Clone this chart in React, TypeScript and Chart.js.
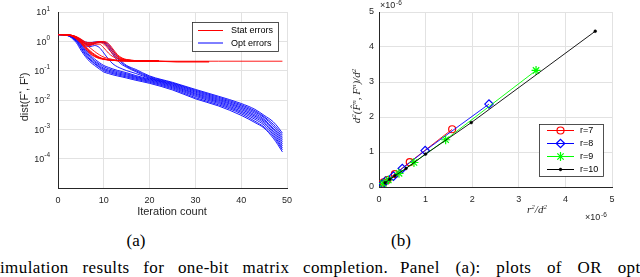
import React, { useEffect, useRef } from 'react';
import { Chart, registerables } from 'chart.js';
import { drawPoint } from 'chart.js/helpers';

Chart.register(...registerables);
Chart.defaults.font.family = "'Liberation Sans', 'DejaVu Sans', Arial, sans-serif";

// ---------- Panel (a) data ----------
const ITER_OPT = [0, 2, 4, 5, 6, 7, 8, 9, 10, 11, 12, 13, 14, 15, 17, 20, 25, 30, 35, 40, 43, 45, 47, 48, 49];
const OPT_ERRORS = [
  [1.7, 1.58, 0.9, 0.5, 0.3, 0.2, 0.15, 0.115, 0.09, 0.08, 0.072, 0.066, 0.061, 0.056, 0.047, 0.037, 0.022, 0.011, 0.0063, 0.003, 0.0017, 0.0011, 0.0005, 0.0003, 0.00017],
  [1.7, 1.6, 1.0, 0.58, 0.34, 0.23, 0.17, 0.13, 0.1, 0.088, 0.079, 0.072, 0.066, 0.061, 0.051, 0.04, 0.024, 0.012, 0.0069, 0.0034, 0.0019, 0.0012, 0.00058, 0.00035, 0.0002],
  [1.7, 1.61, 1.05, 0.63, 0.38, 0.25, 0.18, 0.14, 0.11, 0.096, 0.086, 0.078, 0.072, 0.066, 0.055, 0.043, 0.026, 0.0133, 0.0076, 0.0038, 0.0022, 0.0014, 0.00066, 0.0004, 0.00023],
  [1.7, 1.62, 1.1, 0.7, 0.43, 0.28, 0.2, 0.155, 0.12, 0.105, 0.094, 0.085, 0.078, 0.072, 0.059, 0.046, 0.028, 0.0145, 0.0083, 0.0042, 0.0025, 0.0016, 0.00076, 0.00047, 0.00027],
  [1.7, 1.63, 1.15, 0.76, 0.48, 0.31, 0.22, 0.17, 0.135, 0.117, 0.103, 0.093, 0.085, 0.078, 0.063, 0.049, 0.03, 0.0158, 0.009, 0.0047, 0.0028, 0.0018, 0.00086, 0.00055, 0.00032],
  [1.7, 1.64, 1.2, 0.82, 0.54, 0.35, 0.25, 0.19, 0.15, 0.13, 0.114, 0.102, 0.093, 0.085, 0.068, 0.052, 0.032, 0.017, 0.0098, 0.0052, 0.0031, 0.002, 0.001, 0.00064, 0.00038],
  [1.7, 1.64, 1.25, 0.9, 0.7, 0.66, 0.72, 0.62, 0.4, 0.25, 0.17, 0.135, 0.115, 0.1, 0.08, 0.055, 0.034, 0.0185, 0.0106, 0.0057, 0.0035, 0.0022, 0.0011, 0.00074, 0.00045],
  [1.7, 1.65, 1.3, 1.0, 0.8, 0.75, 0.84, 0.93, 0.88, 0.6, 0.35, 0.22, 0.16, 0.13, 0.092, 0.058, 0.036, 0.02, 0.0115, 0.0063, 0.0039, 0.0025, 0.0013, 0.00085, 0.00053],
  [1.7, 1.66, 1.4, 1.15, 0.95, 0.9, 0.95, 0.97, 0.92, 0.7, 0.42, 0.26, 0.18, 0.14, 0.1, 0.062, 0.038, 0.0215, 0.0125, 0.0069, 0.0043, 0.0027, 0.0015, 0.001, 0.00063],
  [1.7, 1.65, 1.35, 1.05, 0.85, 0.8, 0.88, 0.95, 0.96, 0.78, 0.5, 0.3, 0.2, 0.15, 0.11, 0.066, 0.04, 0.023, 0.0135, 0.0076, 0.0048, 0.003, 0.0018, 0.0012, 0.00074],
];
const ITER_STAT = [0, 2, 3, 4, 5, 6, 7, 8, 9, 10, 11, 12, 13, 14, 15, 17, 22];
const STAT_ERRORS = [
  [1.7, 1.65, 1.5, 1.2, 0.85, 0.55, 0.38, 0.3, 0.26, 0.24, 0.23, 0.225, 0.22, 0.22, 0.215, 0.215, 0.215],
  [1.7, 1.66, 1.55, 1.3, 0.95, 0.65, 0.45, 0.34, 0.28, 0.25, 0.235, 0.225, 0.22, 0.22, 0.215, 0.212, 0.21],
  [1.7, 1.66, 1.58, 1.35, 1.05, 0.8, 0.6, 0.45, 0.35, 0.29, 0.26, 0.24, 0.23, 0.225, 0.22, 0.215, 0.212],
  [1.7, 1.67, 1.6, 1.4, 1.1, 0.85, 0.8, 0.88, 0.95, 0.9, 0.65, 0.42, 0.3, 0.25, 0.23, 0.218, 0.213],
  [1.7, 1.67, 1.6, 1.42, 1.15, 0.9, 0.85, 0.9, 0.97, 0.98, 0.85, 0.55, 0.35, 0.27, 0.24, 0.22, 0.214],
  [1.7, 1.66, 1.58, 1.35, 1.0, 0.75, 0.72, 0.8, 0.8, 0.6, 0.4, 0.3, 0.26, 0.24, 0.23, 0.22, 0.215],
  [1.7, 1.65, 1.52, 1.25, 0.9, 0.6, 0.4, 0.31, 0.27, 0.245, 0.232, 0.225, 0.22, 0.218, 0.215, 0.213, 0.212],
  [1.7, 1.67, 1.6, 1.45, 1.2, 0.95, 0.9, 0.93, 0.98, 0.95, 0.75, 0.48, 0.32, 0.26, 0.235, 0.22, 0.215],
];
const ITER_STAT_LONG = [0, 2, 3, 4, 5, 6, 7, 8, 9, 10, 11, 12, 13, 14, 15, 17, 22, 35, 49];
const STAT_ERROR_LONG = [1.7, 1.66, 1.56, 1.32, 0.98, 0.68, 0.48, 0.36, 0.29, 0.255, 0.235, 0.225, 0.218, 0.215, 0.213, 0.21, 0.21, 0.21, 0.21];
const ITER_STAT_MID = [0, 2, 3, 4, 5, 6, 7, 8, 9, 10, 11, 12, 13, 14, 15, 17, 22, 26, 33];
const STAT_ERRORS_MID = [
  [1.7, 1.66, 1.54, 1.28, 0.92, 0.62, 0.43, 0.33, 0.275, 0.25, 0.233, 0.224, 0.218, 0.215, 0.213, 0.211, 0.21, 0.203, 0.203],
  [1.7, 1.67, 1.59, 1.38, 1.08, 0.82, 0.78, 0.85, 0.9, 0.8, 0.55, 0.36, 0.27, 0.235, 0.222, 0.214, 0.21, 0.198, 0.198],
];
const LOG_TICKS = [1e-5, 1e-4, 1e-3, 1e-2, 1e-1, 1, 10];

// ---------- Panel (b) data ----------
const RANK_LABELS = ['r=7', 'r=8', 'r=9', 'r=10'];
const RATIO_X = [
  [0.04, 0.1, 0.18, 0.34, 0.66, 1.57],
  [0.08, 0.14, 0.31, 0.5, 0.99, 2.36],
  [0.09, 0.2, 0.43, 0.75, 1.43, 3.37],
  [0.13, 0.23, 0.34, 0.58, 1.0, 1.98, 4.64],
];
const DIST_Y = [
  [0.08, 0.13, 0.2, 0.37, 0.71, 1.65],
  [0.09, 0.17, 0.31, 0.53, 1.04, 2.37],
  [0.1, 0.2, 0.39, 0.7, 1.35, 3.33],
  [0.12, 0.22, 0.32, 0.53, 0.94, 1.84, 4.45],
];
const AXIS_TICKS_B = [0, 1, 2, 3, 4, 5];

const RED = '#ff0000';
const BLUE = '#0000ff';
const GREEN = '#00ff00';
const BLACK = '#000000';
const AXIS = '#262626';
const GRID = '#e2e2e2';

const RANK_STYLES = [
  { color: RED, pointStyle: 'circle', radius: 3.5, fill: 'rgba(0,0,0,0)', bw: 1.2 },
  { color: BLUE, pointStyle: 'rectRot', radius: 4.2, fill: 'rgba(0,0,0,0)', bw: 1.2 },
  { color: GREEN, pointStyle: 'star', radius: 4.5, fill: 'rgba(0,0,0,0)', bw: 1.2 },
  { color: BLACK, pointStyle: 'circle', radius: 1.4, fill: BLACK, bw: 0.5 },
];

function lineSet(xs: number[], ys: number[], color: string) {
  return {
    data: xs.map((x, i) => ({ x, y: ys[i] })),
    borderColor: color,
    borderWidth: 0.9,
    pointRadius: 0,
    fill: false,
    cubicInterpolationMode: 'monotone',
  };
}

function drawSup(ctx: CanvasRenderingContext2D, base: string, sup: string, rightX: number, y: number) {
  ctx.save();
  ctx.fillStyle = AXIS;
  ctx.textBaseline = 'middle';
  ctx.textAlign = 'left';
  ctx.font = "6.5px 'Liberation Sans', Arial, sans-serif";
  const sw = ctx.measureText(sup).width;
  ctx.font = "9px 'Liberation Sans', Arial, sans-serif";
  const bw = ctx.measureText(base).width;
  ctx.fillText(base, rightX - sw - bw, y + 1);
  ctx.font = "6.5px 'Liberation Sans', Arial, sans-serif";
  ctx.fillText(sup, rightX - sw, y - 3);
  ctx.restore();
}

function drawLegendBox(ctx: CanvasRenderingContext2D, box: any, items: any[]) {
  ctx.save();
  ctx.fillStyle = '#ffffff';
  ctx.fillRect(box.x, box.y, box.w, box.h);
  ctx.strokeStyle = AXIS;
  ctx.lineWidth = 0.8;
  ctx.strokeRect(box.x + 0.5, box.y + 0.5, box.w, box.h);
  items.forEach((it, i) => {
    const y = box.rowY[i];
    ctx.strokeStyle = it.color;
    ctx.lineWidth = 1;
    ctx.beginPath();
    ctx.moveTo(box.lineX0, y);
    ctx.lineTo(box.lineX1, y);
    ctx.stroke();
    if (it.pointStyle) {
      ctx.strokeStyle = it.color;
      ctx.fillStyle = it.fill;
      ctx.lineWidth = it.bw;
      drawPoint(ctx, { pointStyle: it.pointStyle, radius: it.radius, rotation: 0, borderWidth: it.bw }, (box.lineX0 + box.lineX1) / 2, y);
    }
    ctx.fillStyle = '#000';
    ctx.font = "9px 'Liberation Sans', Arial, sans-serif";
    ctx.textAlign = 'left';
    ctx.textBaseline = 'middle';
    ctx.fillText(it.label, box.textX, y + 0.5);
  });
  ctx.restore();
}

const pluginA = {
  id: 'decorA',
  afterDraw(chart: any) {
    const ctx = chart.ctx;
    const ys = chart.scales.y;
    LOG_TICKS.forEach((v) => {
      if (v === 1e-5) return;
      const py = ys.getPixelForValue(v);
      drawSup(ctx, '10', String(Math.round(Math.log10(v))), 50, py);
    });
    drawLegendBox(ctx, { x: 192, y: 22, w: 86, h: 29, rowY: [30.5, 43], lineX0: 198, lineX1: 223, textX: 231 }, [
      { label: 'Stat errors', color: RED },
      { label: 'Opt errors', color: BLUE },
    ]);
  },
};

const pluginB = {
  id: 'decorB',
  afterDraw(chart: any) {
    const ctx = chart.ctx;
    ctx.save();
    ctx.fillStyle = AXIS;
    ctx.textBaseline = 'middle';
    ctx.textAlign = 'left';
    ctx.font = "9px 'Liberation Sans', Arial, sans-serif";
    ctx.fillText('\u00d710', 60, 6);
    ctx.font = "6.5px 'Liberation Sans', Arial, sans-serif";
    ctx.fillText('-6', 76, 3);
    ctx.font = "9px 'Liberation Sans', Arial, sans-serif";
    ctx.fillText('\u00d710', 265, 218);
    ctx.font = "6.5px 'Liberation Sans', Arial, sans-serif";
    ctx.fillText('-6', 281, 215);
    ctx.restore();
    drawLegendBox(ctx, { x: 219, y: 124, w: 64, h: 52, rowY: [130.5, 143.5, 156.5, 169.5], lineX0: 227, lineX1: 254, textX: 260 },
      RANK_LABELS.map((label, i) => ({ label, ...RANK_STYLES[i] })));
  },
};

function configA() {
  const datasets: any[] = [];
  STAT_ERRORS.forEach((ys) => datasets.push(lineSet(ITER_STAT, ys, RED)));
  datasets.push(lineSet(ITER_STAT_LONG, STAT_ERROR_LONG, RED));
  STAT_ERRORS_MID.forEach((ys) => datasets.push(lineSet(ITER_STAT_MID, ys, RED)));
  OPT_ERRORS.forEach((ys) => datasets.push(lineSet(ITER_OPT, ys, BLUE)));
  return {
    type: 'line',
    data: { datasets },
    options: {
      animation: false,
      responsive: false,
      maintainAspectRatio: false,
      layout: { padding: { left: 0, right: 33, top: 12, bottom: 0 } },
      plugins: { legend: { display: false }, tooltip: { enabled: false } },
      scales: {
        x: {
          type: 'linear', min: 0, max: 50,
          ticks: { stepSize: 10, font: { size: 9 }, color: AXIS, padding: 7, maxRotation: 0 },
          grid: { color: GRID, drawTicks: false },
          border: { color: AXIS },
          afterFit: (s: any) => { s.height = 42; },
        },
        y: {
          type: 'logarithmic', min: 1e-5, max: 10,
          ticks: { display: false },
          grid: { color: GRID, drawTicks: false },
          border: { color: AXIS },
          afterBuildTicks: (s: any) => { s.ticks = LOG_TICKS.map((v) => ({ value: v })); },
          afterFit: (s: any) => { s.width = 58; },
        },
      },
    },
    plugins: [pluginA],
  };
}

function configB() {
  const datasets: any[] = RANK_LABELS.map((label, i) => ({
    label,
    data: RATIO_X[i].map((x, j) => ({ x, y: DIST_Y[i][j] })),
    showLine: true,
    borderColor: RANK_STYLES[i].color,
    borderWidth: 0.9,
    pointStyle: RANK_STYLES[i].pointStyle,
    pointRadius: RANK_STYLES[i].radius,
    pointBackgroundColor: RANK_STYLES[i].fill,
    pointBorderColor: RANK_STYLES[i].color,
    pointBorderWidth: RANK_STYLES[i].bw,
  })).reverse();
  return {
    type: 'scatter',
    data: { datasets },
    options: {
      animation: false,
      responsive: false,
      maintainAspectRatio: false,
      layout: { padding: { left: 0, right: 28, top: 12, bottom: 0 } },
      plugins: { legend: { display: false }, tooltip: { enabled: false } },
      scales: {
        x: {
          type: 'linear', min: 0, max: 5,
          ticks: { stepSize: 1, font: { size: 9 }, color: AXIS, padding: 7, maxRotation: 0 },
          afterBuildTicks: (s: any) => { s.ticks = AXIS_TICKS_B.map((v) => ({ value: v })); },
          grid: { color: GRID, drawTicks: false },
          border: { color: AXIS },
          afterFit: (s: any) => { s.height = 43; },
        },
        y: {
          type: 'linear', min: 0, max: 5,
          ticks: { stepSize: 1, font: { size: 9 }, color: AXIS, padding: 5 },
          afterBuildTicks: (s: any) => { s.ticks = AXIS_TICKS_B.map((v) => ({ value: v })); },
          grid: { color: GRID, drawTicks: false },
          border: { color: AXIS },
          afterFit: (s: any) => { s.width = 59; },
        },
      },
    },
    plugins: [pluginB],
  };
}

const abs = (s: any): any => ({ position: 'absolute', whiteSpace: 'nowrap', margin: 0, ...s });

// centered (optionally rotated) label box of fixed size
function label(cx: number, cy: number, rotate: boolean, font: string, children: any) {
  const w = 140, h = 16;
  return (
    <div style={abs({
      left: cx - w / 2, top: cy - h / 2, width: w, height: h, lineHeight: `${h}px`,
      textAlign: 'center', font, color: AXIS,
      transform: rotate ? 'rotate(-90deg)' : 'none', transformOrigin: '50% 50%',
    })}>{children}</div>
  );
}

const supS = { fontSize: 7, lineHeight: 0, verticalAlign: '4px' };

export default function App() {
  const refA = useRef<HTMLCanvasElement>(null);
  const refB = useRef<HTMLCanvasElement>(null);

  useEffect(() => {
    const a = new Chart(refA.current as any, configA() as any);
    const b = new Chart(refB.current as any, configB() as any);
    return () => { a.destroy(); b.destroy(); };
  }, []);

  const sans = "'Liberation Sans', Arial, sans-serif";
  const serif = "'Liberation Serif', 'Times New Roman', serif";
  const captionStyle = { font: `17px ${serif}`, lineHeight: '17px', letterSpacing: '0.4px', color: '#000' };

  return (
    <div style={{ position: 'fixed', left: 0, top: 0, width: 640, height: 277, overflow: 'hidden', background: '#fff' }}>
      <canvas ref={refA} width={320} height={230} style={abs({ left: 0, top: 0, width: 320, height: 230 })} />
      <canvas ref={refB} width={320} height={230} style={abs({ left: 320, top: 0, width: 320, height: 230 })} />

      {label(26, 97, true, `11px ${sans}`, <>dist(F<span style={supS}>*</span>, F<span style={supS}>t</span>)</>)}
      {label(172, 213, false, `11px ${sans}`, 'Iteration count')}
      {label(358, 96, true, `italic 11px ${serif}`, <>d<span style={supS}>2</span>(F̂<span style={supS}>n</span>, F<span style={supS}>n</span>)/d<span style={supS}>2</span></>)}
      {label(537, 211, false, `italic 11px ${serif}`, <>r<span style={supS}>2</span>/d<span style={supS}>2</span></>)}

      <div style={abs({ left: 136, top: 232, transform: 'translateX(-50%)', font: `17px ${serif}`, lineHeight: '17px', color: '#000' })}>(a)</div>
      <div style={abs({ left: 401, top: 232, transform: 'translateX(-50%)', font: `17px ${serif}`, lineHeight: '17px', color: '#000' })}>(b)</div>

      <div style={abs({ left: 0, top: 259, wordSpacing: '9px', ...captionStyle })}>
        imulation results for one-bit matrix completion.
      </div>
      <div style={abs({ left: 400, top: 259, wordSpacing: '11px', ...captionStyle })}>
        Panel (a): plots of OR optimization
      </div>
    </div>
  );
}
